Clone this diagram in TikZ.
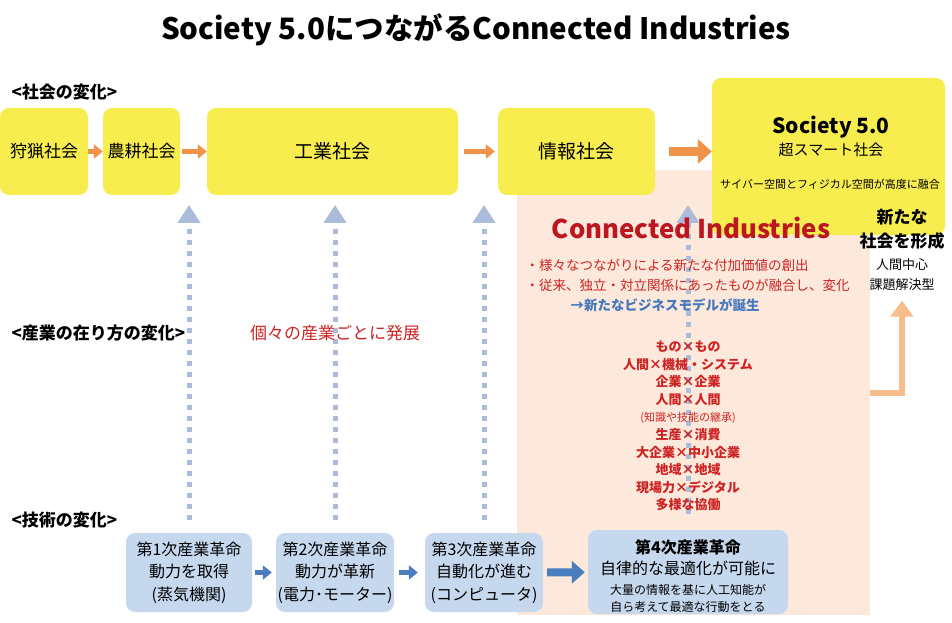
\documentclass[tikz,border=0pt]{standalone}
\usepackage{fontspec}
\setmainfont{Noto Sans CJK JP}
\usetikzlibrary{arrows.meta,positioning}

\definecolor{socyellow}{RGB}{247,237,79}
\definecolor{socorange}{RGB}{240,146,72}
\definecolor{cipink}{RGB}{252,233,219}
\definecolor{cired}{RGB}{190,22,32}
\definecolor{listred}{RGB}{205,35,35}
\definecolor{newblue}{RGB}{70,120,190}
\definecolor{techblue}{RGB}{198,216,238}
\definecolor{techarrowblue}{RGB}{74,126,190}
\definecolor{riseblue}{RGB}{170,188,218}
\definecolor{backorange}{RGB}{246,190,140}

\newcommand\fsz[2]{\fontsize{#1bp}{#2bp}\selectfont}

\begin{document}
\begin{tikzpicture}[x=1bp,y=-1bp,
  socbox/.style={fill=socyellow,rounded corners=9bp,inner sep=0pt},
  techbox/.style={fill=techblue,rounded corners=9bp,inner sep=0pt,align=center,font=\fsz{16}{22.5}},
  socarrow/.style={-{Triangle[width=14bp,length=9bp]},line width=5bp,draw=socorange},
  techarrow/.style={-{Triangle[width=14bp,length=9bp]},line width=5bp,draw=techarrowblue},
  riseline/.style={-{Triangle[width=22bp,length=18bp]},line width=5bp,draw=riseblue,dash pattern=on 5bp off 6bp},
  stagelabel/.style={anchor=west,font=\bfseries\fsz{17}{19}},
  redtext/.style={text=listred,font=\bfseries\fsz{13}{17.6},align=center}
]
\useasboundingbox (0,0) rectangle (952,623);
\node (title) at (476,30) [font=\bfseries\fsz{29.5}{32}] {Society 5.0につながるConnected Industries};
\node (lblsoc)  at (8,92)  [stagelabel] {<社会の変化>};
\node (lblind)  at (8,333) [stagelabel] {<産業の在り方の変化>};
\node (lbltech) at (8,520) [stagelabel] {<技術の変化>};
\node (ciarea) at (693.5,392.5) [fill=cipink,minimum width=353bp,minimum height=445bp] {};
\node (hunt)  at (44,151.5)    [socbox,minimum width=88bp,minimum height=87bp,font=\fsz{17}{20}]  {狩猟社会};
\node (farm)  at (141.5,151.5) [socbox,minimum width=77bp,minimum height=87bp,font=\fsz{17}{20}]  {農耕社会};
\node (indus) at (332.5,151.5) [socbox,minimum width=251bp,minimum height=87bp,font=\fsz{19}{22}] {工業社会};
\node (info)  at (576.5,151.5) [socbox,minimum width=157bp,minimum height=87bp,font=\fsz{19}{22}] {情報社会};
\node (soc5)  at (828.5,156.5) [socbox,minimum width=233bp,minimum height=157bp] {};
\node (soctitle) at (831,127) [font=\bfseries\fsz{21}{24}] {Society 5.0};
\node (socsub)   at (831,150) [font=\fsz{15}{18}] {超スマート社会};
\node (socfuse)  at (830,184) [font=\fsz{11}{13}] {サイバー空間とフィジカル空間が高度に融合};
\draw [socarrow] (hunt) to (farm);
\draw [socarrow,shorten <=2bp] (farm) to (indus);
\draw [socarrow,shorten <=6bp,shorten >=3bp] (indus) to (info);
\draw [socarrow,line width=9bp,-{Triangle[width=24bp,length=14bp]},shorten <=14bp] (info) to (soc5.west |- info);
\node (t1) at (189,572.5) [techbox,minimum width=126bp,minimum height=79bp] {第1次産業革命\\動力を取得\\(蒸気機関)};
\node (t2) at (335,572.5) [techbox,minimum width=118bp,minimum height=79bp] {第2次産業革命\\動力が革新\\(電力･モーター)};
\node (t3) at (484,572.5) [techbox,minimum width=118bp,minimum height=79bp] {第3次産業革命\\自動化が進む\\(コンピュータ)};
\node (t4) at (688,572)   [techbox,minimum width=200bp,minimum height=84bp] {};
\node (t4text) at (688,576) [align=center,font=\fsz{16}{20.5}] {\bfseries 第4次産業革命\\自律的な最適化が可能に\\\fsz{12}{20}大量の情報を基に人工知能が\\[-4bp]\fsz{12}{20}自ら考えて最適な行動をとる};
\draw [techarrow,shorten <=3bp,shorten >=4bp] (t1) to (t2);
\draw [techarrow,shorten <=5bp,shorten >=7bp] (t2) to (t3);
\draw [techarrow,line width=8bp,-{Triangle[width=22bp,length=13bp]},shorten <=4bp,shorten >=3bp] (t3) to (t4);
\coordinate (risetop) at (0,205);
\draw [riseline] ([yshift=13bp]t1.north) to (t1.north |- risetop);
\draw [riseline] ([yshift=13bp]t2.north) to (t2.north |- risetop);
\draw [riseline] ([yshift=13bp]t3.north) to (t3.north |- risetop);
\draw [riseline] ([yshift=16bp]t4.north) to (t4.north |- risetop);
\node (indev) at (335,333) [text=listred,font=\fsz{17}{20}] {個々の産業ごとに発展};
\node (cititle) at (691,228) [text=cired,font=\bfseries\fsz{25.8}{28}] {Connected Industries};
\node (cibullet) at (522,275) [anchor=west,align=left,text=listred,font=\fsz{13.5}{20}] {・様々なつながりによる新たな付加価値の創出\\・従来、独立・対立関係にあったものが融合し、変化};
\node (cinew) at (567,305) [anchor=west,text=newblue,font=\bfseries\fsz{13.5}{16}] {→新たなビジネスモデルが誕生};
\node (cilist) at (688,426) [redtext] {もの×もの\\人間×機械・システム\\企業×企業\\人間×人間\\\mdseries\fsz{11}{17.6}(知識や技能の継承)\\生産×消費\\大企業×中小企業\\地域×地域\\現場力×デジタル\\多様な協働};
\node (newsoc) at (902,229) [align=center,font=\bfseries\fsz{17}{24}] {新たな\\社会を形成};
\node (newsocsub) at (902,275) [align=center,font=\fsz{13}{20}] {人間中心\\課題解決型};
\draw [line width=6bp,draw=backorange,-{Triangle[width=22bp,length=16bp]},shorten >=6bp] (ciarea.east) -| (newsocsub.south);
\end{tikzpicture}
\end{document}
